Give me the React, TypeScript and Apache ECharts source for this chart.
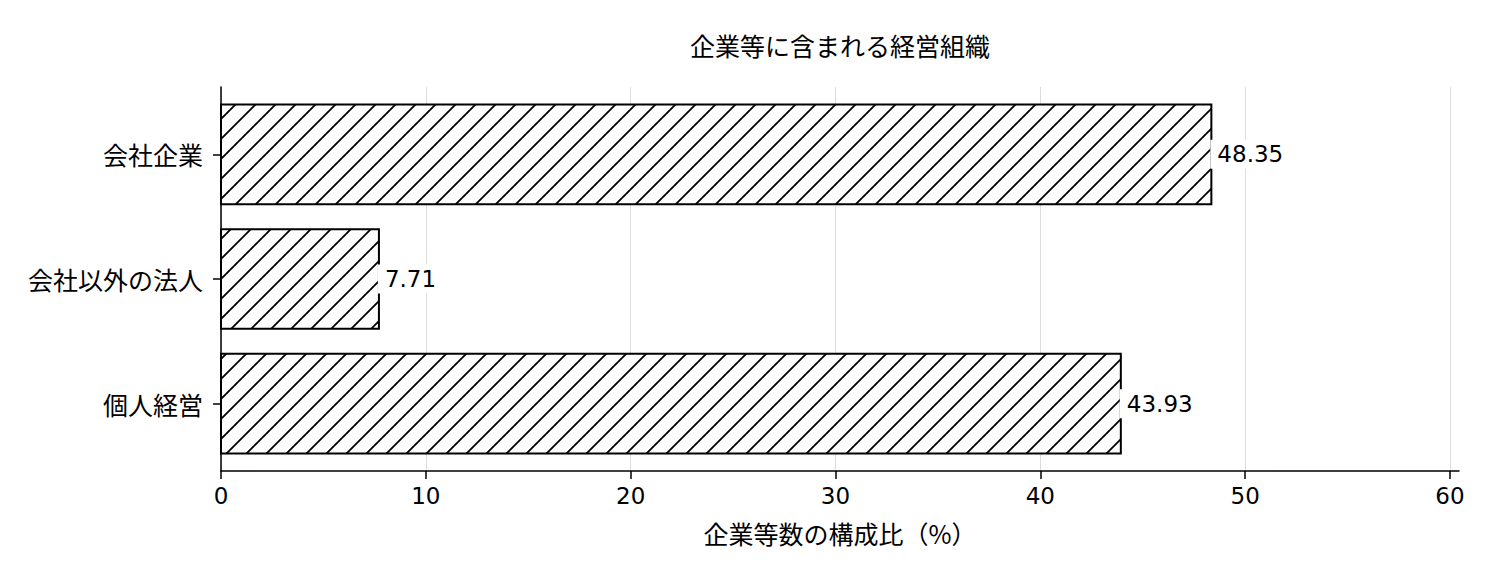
import { useEffect, useRef } from "react";
import * as echarts from "echarts";

const categories = ["会社企業", "会社以外の法人", "個人経営"];
const shares = [48.35, 7.71, 43.93];
const xTicks = [0, 10, 20, 30, 40, 50, 60];
const yTicks = [0, 1, 2];

const cjk = "'Noto Sans CJK JP', sans-serif";
const latin = "'DejaVu Sans', sans-serif";

// 斜線ハッチ (matplotlib の "//" 相当)
const hatchSvg =
  '<svg xmlns="http://www.w3.org/2000/svg" width="20" height="20">' +
  '<rect width="20" height="20" fill="#ffffff"/>' +
  '<path d="M-2 22 L22 -2 M-2 2 L2 -2 M18 22 L22 18" stroke="#000" stroke-width="1.8"/>' +
  "</svg>";
const hatch = {
  image: "data:image/svg+xml;charset=utf-8," + encodeURIComponent(hatchSvg),
  repeat: "repeat",
  imageWidth: 20,
  imageHeight: 20,
};

export default function App() {
  const chartRef = useRef<HTMLDivElement>(null);

  useEffect(() => {
    if (!chartRef.current) return;
    const chart = echarts.init(chartRef.current, undefined, { renderer: "svg" });

    const option = {
      animation: false,
      backgroundColor: "#ffffff",
      title: {
        text: "企業等に含まれる経営組織",
        left: 835,
        textAlign: "center",
        top: 27,
        textStyle: { fontFamily: cjk, fontSize: 25, fontWeight: "normal", color: "#000" },
      },
      grid: { left: 221, right: 35, top: 87, bottom: 105 },
      xAxis: {
        type: "value",
        min: 0,
        max: 60.44,
        interval: 10,
        name: "企業等数の構成比（%）",
        nameLocation: "middle",
        nameGap: 49,
        nameTextStyle: { fontFamily: cjk, fontSize: 25, color: "#000" },
        axisLine: { show: true, onZero: false, lineStyle: { color: "#000", width: 1.5 } },
        axisTick: { show: true, customValues: xTicks, length: 8, lineStyle: { color: "#000", width: 1.5 } },
        axisLabel: { customValues: xTicks, fontFamily: latin, fontSize: 23, color: "#000", margin: 13 },
        splitLine: { show: true, lineStyle: { color: "#dcdcdc", width: 1 } },
      },
      yAxis: {
        type: "value",
        min: -0.54,
        max: 2.54,
        inverse: true,
        axisLine: { show: true, onZero: false, lineStyle: { color: "#000", width: 1.5 } },
        axisTick: { show: true, customValues: yTicks, length: 8, lineStyle: { color: "#000", width: 1.5 } },
        axisLabel: {
          customValues: yTicks,
          formatter: (v: number) => categories[Math.round(v)] ?? "",
          fontFamily: cjk,
          fontSize: 25,
          color: "#000",
          margin: 18,
        },
        splitLine: { show: false },
      },
      series: [
        {
          type: "custom",
          data: shares.map((v, i) => [v, i]),
          encode: { x: 0, y: 1 },
          renderItem: (_params: unknown, api: any) => {
            const val = api.value(0) as number;
            const idx = api.value(1) as number;
            const start = api.coord([0, idx]);
            const end = api.coord([val, idx]);
            const h = Math.abs(api.size([0, 0.8])[1]);
            return {
              type: "rect",
              shape: { x: start[0], y: start[1] - h / 2, width: end[0] - start[0], height: h },
              style: { fill: hatch, stroke: "#000", lineWidth: 2 },
              textContent: {
                style: {
                  text: val.toFixed(2),
                  fill: "#000",
                  fontFamily: latin,
                  fontSize: 23,
                  backgroundColor: "#fff",
                  padding: [1, 4, 5, 7],
                },
              },
              textConfig: { position: "right", distance: -2 },
            };
          },
        },
      ],
    };

    chart.setOption(option as echarts.EChartsOption);

    return () => {
      chart.dispose();
    };
  }, []);

  return (
    <div
      ref={chartRef}
      style={{ position: "absolute", left: 0, top: 0, width: 1494, height: 576 }}
    />
  );
}
